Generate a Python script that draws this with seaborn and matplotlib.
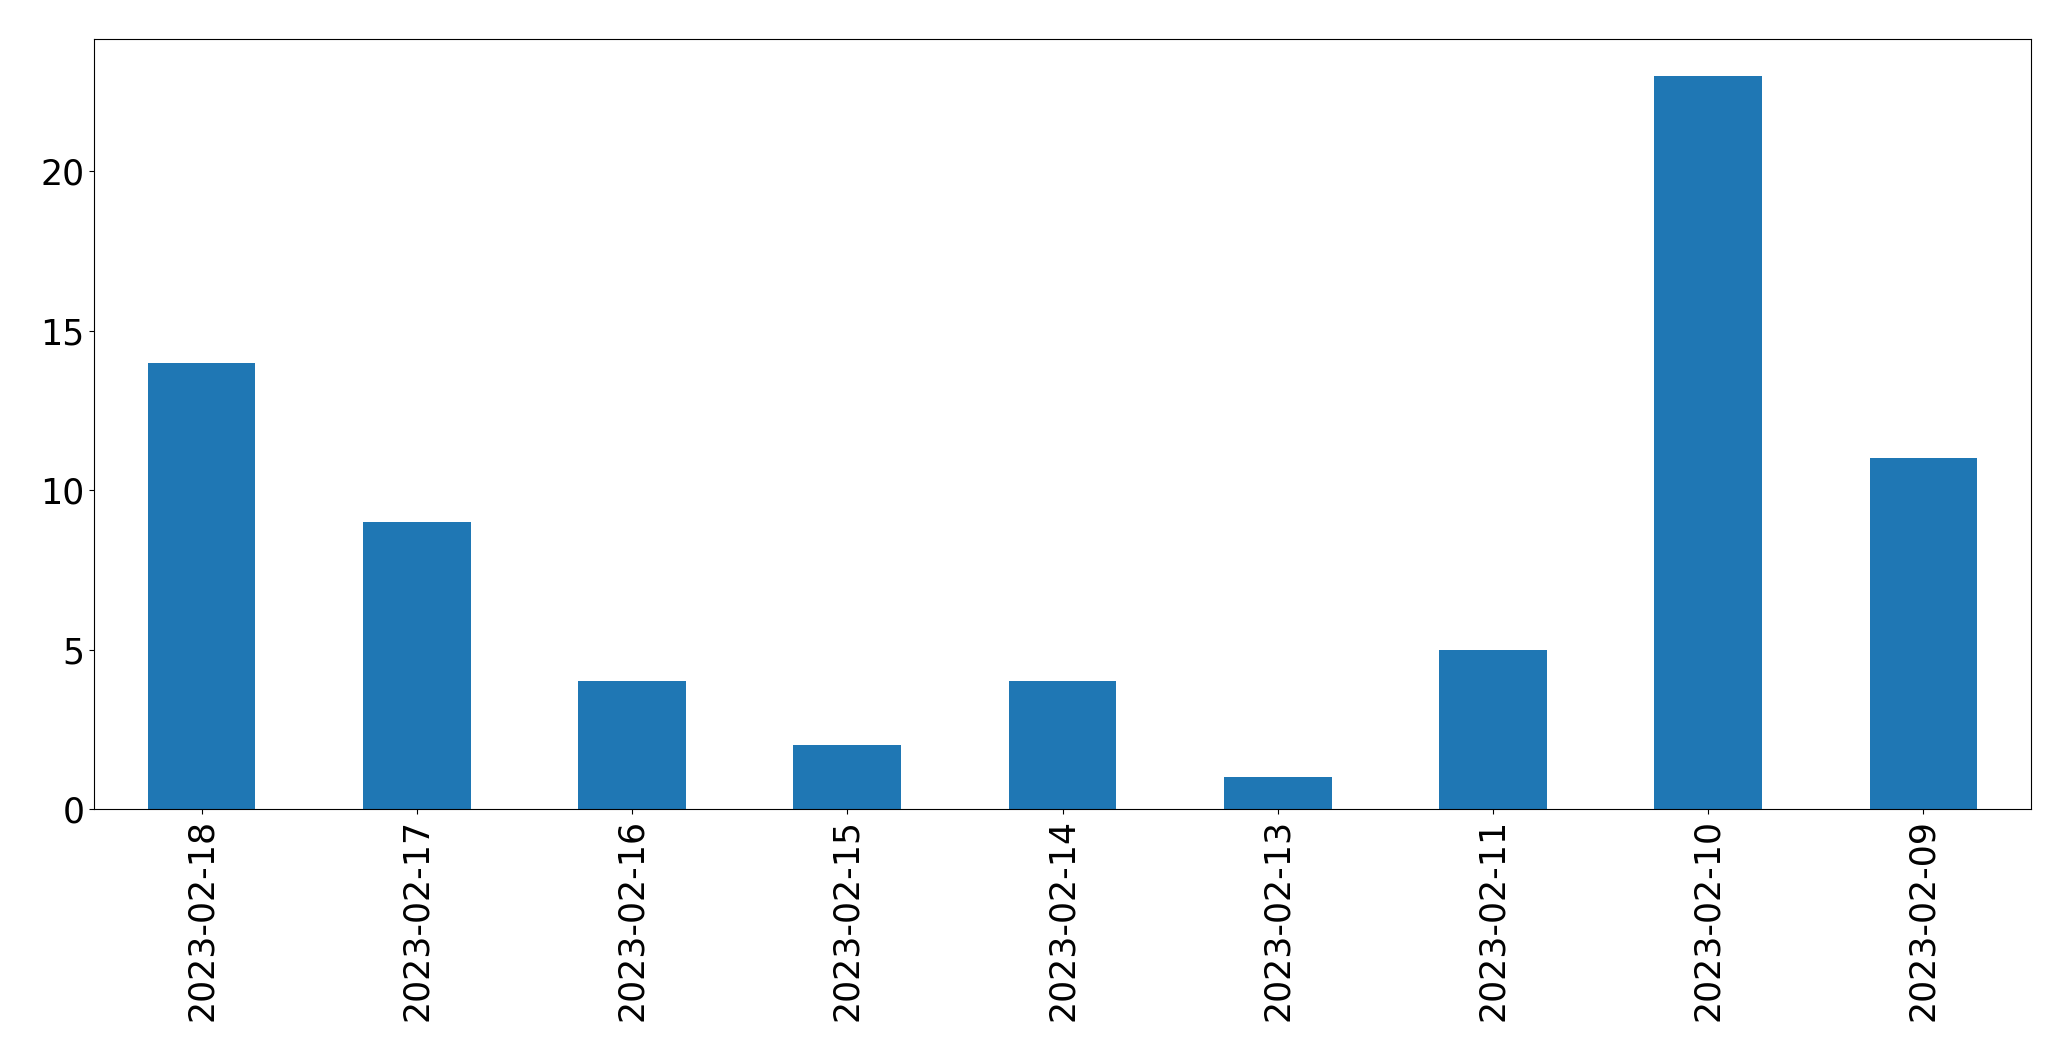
import pandas as pd
import seaborn as sns
import matplotlib
matplotlib.use("Agg")
import matplotlib.pyplot as plt

# Data
dates = ["2023-02-18", "2023-02-17", "2023-02-16", "2023-02-15", "2023-02-14",
         "2023-02-13", "2023-02-11", "2023-02-10", "2023-02-09"]
counts = [14, 9, 4, 2, 4, 1, 5, 23, 11]

df = pd.DataFrame({"date": dates, "count": counts})

fig, ax = plt.subplots(figsize=(20.71, 10.61), dpi=100)
fig.subplots_adjust(left=0.0454, right=0.9807, top=0.9632, bottom=0.2375)

sns.barplot(data=df, x="date", y="count", order=dates, color="#1f77b4",
            saturation=1, width=0.5, ax=ax)

ax.set_xlabel("")
ax.set_ylabel("")
ax.set_xlim(-0.5, len(dates) - 0.5)
ax.set_ylim(0, max(counts) * 1.05)
ax.tick_params(axis="both", labelsize=25)
ax.tick_params(axis="x", labelrotation=90)

fig.savefig("out.png", dpi=100)
